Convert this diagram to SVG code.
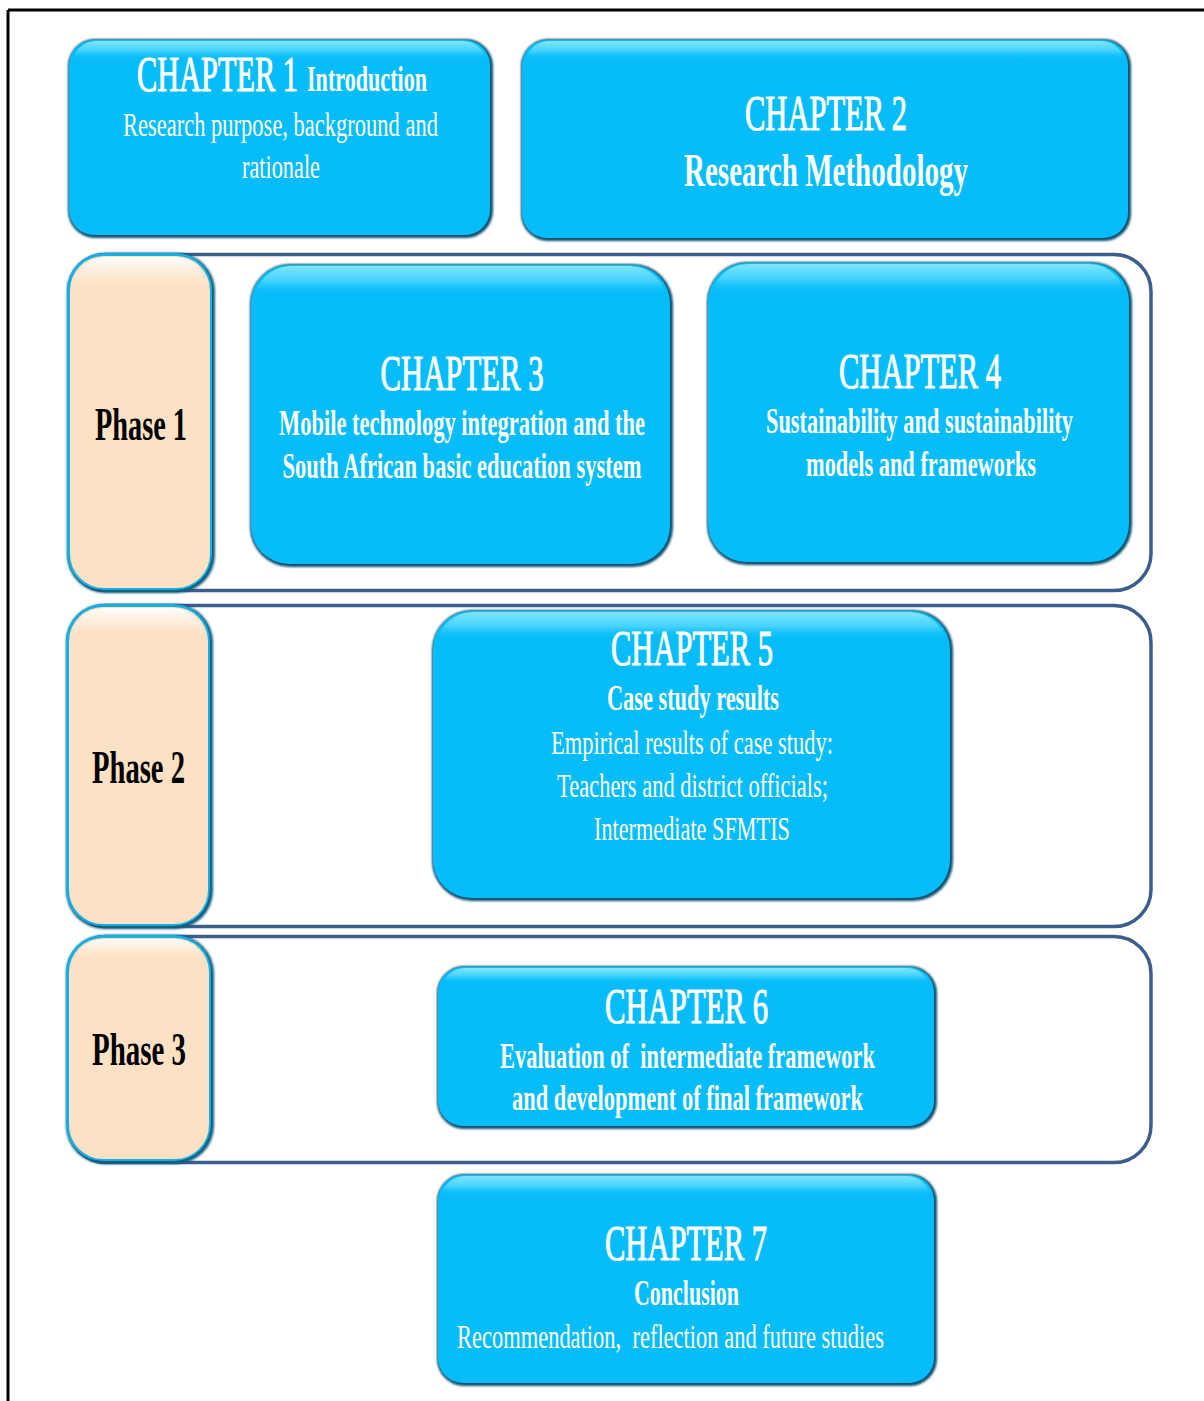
<svg xmlns="http://www.w3.org/2000/svg" width="1204" height="1401" viewBox="0 0 1204 1401">
  <style>
    text { font-family: "Liberation Serif", "Times New Roman", serif; white-space: pre; }
    .w { fill: #ffffff; }
    .k { fill: #000000; font-weight: bold; }
    .h { font-size: 50px; stroke: #ffffff; stroke-width: 1.1px; }
    .b { font-size: 36px; font-weight: bold; }
    .r { font-size: 34px; }
    .frame { fill: none; stroke: #3d5d8c; stroke-width: 3.5; }
    .edge { fill: #07506e; filter: url(#soft); }
    .fill { fill: #06bcf9; }
    .gloss { fill: url(#gloss); }
    .pedge { fill: #0e5f80; filter: url(#soft); }
    .prim { fill: #19aee2; }
    .pfill { fill: #fde1c4; }
    .pgloss { fill: url(#pgloss); }
  </style>
  <defs>
    <filter id="soft" x="-5%" y="-5%" width="110%" height="110%">
      <feGaussianBlur stdDeviation="1.2"/>
    </filter>
    <linearGradient id="gloss" x1="0" y1="0" x2="0" y2="1">
      <stop offset="0" stop-color="#8eeaff" stop-opacity="0.9"/>
      <stop offset="0.05" stop-color="#6fe2ff" stop-opacity="0.6"/>
      <stop offset="0.1" stop-color="#06bcf9" stop-opacity="0"/>
      <stop offset="1" stop-color="#06bcf9" stop-opacity="0"/>
    </linearGradient>
    <linearGradient id="pgloss" x1="0" y1="0" x2="0" y2="1">
      <stop offset="0" stop-color="#ffffff" stop-opacity="0.95"/>
      <stop offset="0.05" stop-color="#fff6ec" stop-opacity="0.5"/>
      <stop offset="0.1" stop-color="#fde1c4" stop-opacity="0"/>
      <stop offset="1" stop-color="#fde1c4" stop-opacity="0"/>
    </linearGradient>
  </defs>

  <rect width="1204" height="1401" fill="#ffffff"/>

  <!-- page border (top and left rules) -->
  <g id="page-border" stroke="#000000" stroke-width="3" fill="none">
    <line x1="8" y1="10" x2="1204" y2="10"/>
    <line x1="8" y1="10" x2="8" y2="1401"/>
  </g>

  <!-- phase frames -->
  <g id="connectors">
    <rect class="frame" x="69" y="254.5" width="1082" height="336" rx="37"/>
    <rect class="frame" x="69" y="605.5" width="1082" height="321" rx="37"/>
    <rect class="frame" x="69" y="936.5" width="1082" height="226" rx="37"/>
  </g>

  <!-- Chapter 1 -->
  <g id="chapter1">
    <rect class="edge" x="68" y="39" width="425" height="199" rx="27"/>
    <rect class="fill" x="69" y="40" width="421" height="195" rx="25"/>
    <rect class="gloss" x="72" y="41" width="415" height="192" rx="24"/>
    <text class="w h" x="137" y="91" textLength="161" lengthAdjust="spacingAndGlyphs">CHAPTER 1</text>
    <text class="w b" x="307" y="91" textLength="120" lengthAdjust="spacingAndGlyphs">Introduction</text>
    <text class="w r" x="280.5" y="136" text-anchor="middle" textLength="315" lengthAdjust="spacingAndGlyphs">Research purpose, background and</text>
    <text class="w r" x="281" y="178" text-anchor="middle" textLength="78" lengthAdjust="spacingAndGlyphs">rationale</text>
  </g>

  <!-- Chapter 2 -->
  <g id="chapter2">
    <rect class="edge" x="521" y="39" width="610" height="202" rx="27"/>
    <rect class="fill" x="522" y="40" width="606" height="198" rx="25"/>
    <rect class="gloss" x="525" y="41" width="600" height="195" rx="24"/>
    <text class="w h" x="826" y="130" text-anchor="middle" textLength="162" lengthAdjust="spacingAndGlyphs">CHAPTER 2</text>
    <text class="w b" x="826" y="186" text-anchor="middle" style="font-size:46px" textLength="284" lengthAdjust="spacingAndGlyphs">Research Methodology</text>
  </g>

  <!-- Phase 1 label -->
  <g id="phase1">
    <rect class="pedge" x="67" y="253" width="148" height="340" rx="38"/>
    <rect class="prim" x="67" y="253" width="145" height="337" rx="37"/>
    <rect class="pfill" x="70" y="256" width="140" height="332" rx="34"/>
    <rect class="pgloss" x="72" y="257" width="136" height="329" rx="33"/>
    <text class="k" x="141" y="440" text-anchor="middle" style="font-size:46px" textLength="92" lengthAdjust="spacingAndGlyphs">Phase 1</text>
  </g>

  <!-- Chapter 3 -->
  <g id="chapter3">
    <rect class="edge" x="250" y="264" width="423" height="303" rx="40"/>
    <rect class="fill" x="251" y="265" width="419" height="299" rx="38"/>
    <rect class="gloss" x="254" y="266" width="413" height="296" rx="37"/>
    <text class="w h" x="462" y="390" text-anchor="middle" textLength="163" lengthAdjust="spacingAndGlyphs">CHAPTER 3</text>
    <text class="w b" x="462" y="435" text-anchor="middle" textLength="366" lengthAdjust="spacingAndGlyphs">Mobile technology integration and the</text>
    <text class="w b" x="462" y="478" text-anchor="middle" textLength="359" lengthAdjust="spacingAndGlyphs">South African basic education system</text>
  </g>

  <!-- Chapter 4 -->
  <g id="chapter4">
    <rect class="edge" x="707" y="262" width="425" height="303" rx="40"/>
    <rect class="fill" x="708" y="263" width="421" height="299" rx="38"/>
    <rect class="gloss" x="711" y="264" width="415" height="296" rx="37"/>
    <text class="w h" x="920" y="388" text-anchor="middle" textLength="162" lengthAdjust="spacingAndGlyphs">CHAPTER 4</text>
    <text class="w b" x="919.5" y="433" text-anchor="middle" textLength="307" lengthAdjust="spacingAndGlyphs">Sustainability and sustainability</text>
    <text class="w b" x="921" y="476" text-anchor="middle" textLength="230" lengthAdjust="spacingAndGlyphs">models and frameworks</text>
  </g>

  <!-- Phase 2 label -->
  <g id="phase2">
    <rect class="pedge" x="66" y="604" width="147" height="325" rx="38"/>
    <rect class="prim" x="66" y="604" width="144" height="322" rx="37"/>
    <rect class="pfill" x="69" y="607" width="139" height="317" rx="34"/>
    <rect class="pgloss" x="71" y="608" width="135" height="314" rx="33"/>
    <text class="k" x="138.5" y="783" text-anchor="middle" style="font-size:46px" textLength="93" lengthAdjust="spacingAndGlyphs">Phase 2</text>
  </g>

  <!-- Chapter 5 -->
  <g id="chapter5">
    <rect class="edge" x="432" y="610" width="521" height="291" rx="40"/>
    <rect class="fill" x="433" y="611" width="517" height="287" rx="38"/>
    <rect class="gloss" x="436" y="612" width="511" height="284" rx="37"/>
    <text class="w h" x="692" y="665" text-anchor="middle" textLength="162" lengthAdjust="spacingAndGlyphs">CHAPTER 5</text>
    <text class="w b" x="693" y="710" text-anchor="middle" textLength="172" lengthAdjust="spacingAndGlyphs">Case study results</text>
    <text class="w r" x="692" y="754" text-anchor="middle" textLength="282" lengthAdjust="spacingAndGlyphs">Empirical results of case study:</text>
    <text class="w r" x="692.5" y="797" text-anchor="middle" textLength="271" lengthAdjust="spacingAndGlyphs">Teachers and district officials;</text>
    <text class="w r" x="692" y="840" text-anchor="middle" textLength="196" lengthAdjust="spacingAndGlyphs">Intermediate SFMTIS</text>
  </g>

  <!-- Phase 3 label -->
  <g id="phase3">
    <rect class="pedge" x="66" y="935" width="148" height="229" rx="38"/>
    <rect class="prim" x="66" y="935" width="145" height="226" rx="37"/>
    <rect class="pfill" x="69" y="938" width="140" height="221" rx="34"/>
    <rect class="pgloss" x="71" y="939" width="136" height="218" rx="33"/>
    <text class="k" x="139" y="1065" text-anchor="middle" style="font-size:46px" textLength="94" lengthAdjust="spacingAndGlyphs">Phase 3</text>
  </g>

  <!-- Chapter 6 -->
  <g id="chapter6">
    <rect class="edge" x="437" y="966" width="500" height="163" rx="27"/>
    <rect class="fill" x="438" y="967" width="496" height="159" rx="25"/>
    <rect class="gloss" x="441" y="968" width="490" height="156" rx="24"/>
    <text class="w h" x="686.5" y="1023" text-anchor="middle" textLength="163" lengthAdjust="spacingAndGlyphs">CHAPTER 6</text>
    <text class="w b" x="687.5" y="1068" text-anchor="middle" textLength="375" lengthAdjust="spacingAndGlyphs">Evaluation of  intermediate framework</text>
    <text class="w b" x="687.5" y="1110" text-anchor="middle" textLength="351" lengthAdjust="spacingAndGlyphs">and development of final framework</text>
  </g>

  <!-- Chapter 7 -->
  <g id="chapter7">
    <rect class="edge" x="437" y="1174" width="500" height="212" rx="27"/>
    <rect class="fill" x="438" y="1175" width="496" height="208" rx="25"/>
    <rect class="gloss" x="441" y="1176" width="490" height="205" rx="24"/>
    <text class="w h" x="686" y="1260" text-anchor="middle" textLength="162" lengthAdjust="spacingAndGlyphs">CHAPTER 7</text>
    <text class="w b" x="686.5" y="1305" text-anchor="middle" textLength="105" lengthAdjust="spacingAndGlyphs">Conclusion</text>
    <text class="w r" x="670.5" y="1348" text-anchor="middle" textLength="427" lengthAdjust="spacingAndGlyphs">Recommendation,  reflection and future studies</text>
  </g>
</svg>
